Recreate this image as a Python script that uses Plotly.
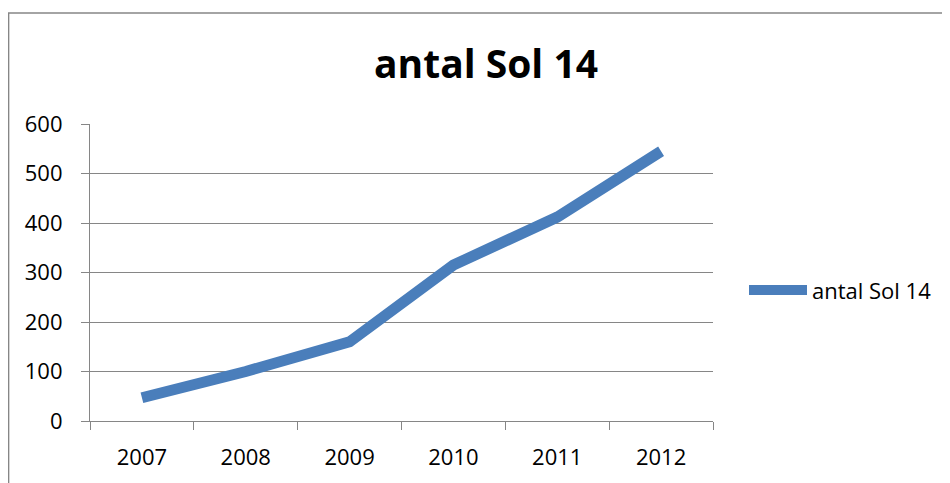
import plotly.graph_objects as go

years = ["2007", "2008", "2009", "2010", "2011", "2012"]
antal_sol_14 = [47, 100, 160, 315, 412, 545]
y_ticks = [0, 100, 200, 300, 400, 500, 600]

OFF = 8  # page body margin
L, R, T, B = 90 - OFF, 713 - OFF, 124 - OFF, 424 - OFF
W, H = 950 - OFF, 483 - OFF

def px_x(x):  # image x -> paper fraction
    return (x - OFF - L) / (R - L)

def px_y(y):  # image y -> paper fraction
    return (B - (y - OFF)) / (B - T)

fig = go.Figure()
fig.add_trace(go.Scatter(
    x=years, y=antal_sol_14, mode="lines", name="antal Sol 14",
    line=dict(color="#4A7EBB", width=11),
))

axis_col = "#868686"
font_fam = "'Open Sans', Lato, sans-serif"

fig.update_layout(
    width=W, height=H,
    margin=dict(l=L, r=W - R, t=T, b=H - B, pad=0),
    paper_bgcolor="white", plot_bgcolor="white",
    font=dict(family=font_fam, size=20, color="black"),
    title=dict(text="<b>antal Sol 14</b>", x=px_x(486), xref="paper", xanchor="center",
               y=1 - (64 - OFF) / H, yref="container", yanchor="middle",
               font=dict(size=39, family=font_fam)),
    showlegend=True,
    legend=dict(x=px_x(744), y=px_y(292), xanchor="left", yanchor="middle",
                font=dict(size=22), bgcolor="rgba(0,0,0,0)", itemwidth=58),
    xaxis=dict(type="category", range=[-0.5, 5.5], showgrid=False,
               showline=True, linecolor=axis_col, linewidth=1.2,
               ticks="outside", tickson="boundaries", ticklen=8, tickcolor=axis_col,
               tickfont=dict(size=22), ticklabelstandoff=16, fixedrange=True),
    yaxis=dict(range=[0, 600], tickvals=y_ticks, showgrid=True, gridcolor=axis_col, gridwidth=1.2,
               showline=True, linecolor=axis_col, linewidth=1.2, zeroline=False,
               ticks="outside", ticklen=8, tickcolor=axis_col,
               tickfont=dict(size=22), ticklabelstandoff=14, fixedrange=True),
    shapes=[dict(type="rect", xref="paper", yref="paper",
                 x0=px_x(8.6), x1=px_x(965), y0=px_y(495), y1=px_y(11.8),
                 line=dict(color=axis_col, width=1.5), fillcolor="rgba(0,0,0,0)", layer="below")],
)

fig.write_html("out.html")
